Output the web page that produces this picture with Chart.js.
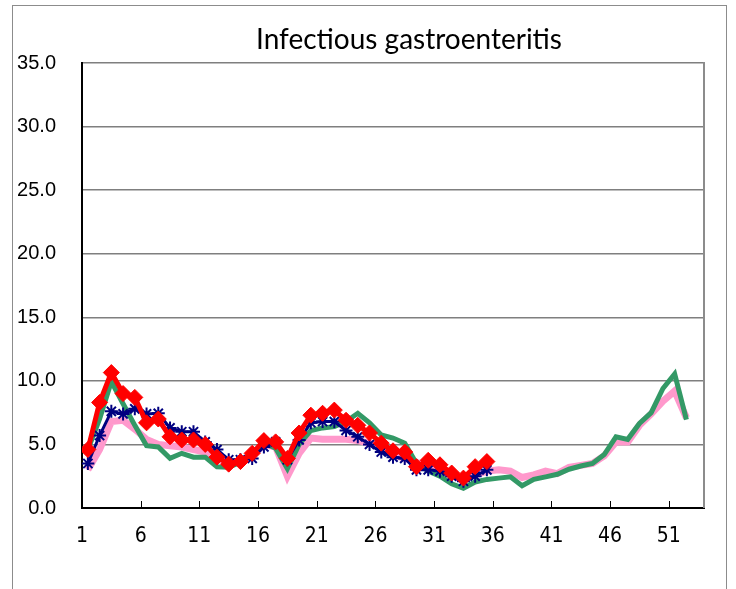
<!DOCTYPE html>
<html>
<head>
<meta charset="utf-8">
<script src="https://cdn.jsdelivr.net/npm/chart.js@4/dist/chart.umd.min.js"></script>
<style>
  html, body { margin: 0; padding: 0; background: #ffffff; }
  canvas { display: block; }
</style>
</head>
<body>
<canvas id="c" width="736" height="589"></canvas>
<script>
// ---- Data ----
const chartTitle = 'Infectious gastroenteritis';
const weeks = [1,2,3,4,5,6,7,8,9,10,11,12,13,14,15,16,17,18,19,20,21,22,23,24,25,26,
               27,28,29,30,31,32,33,34,35,36,37,38,39,40,41,42,43,44,45,46,47,48,49,50,51,52];
const xTickLabels = ['1','6','11','16','21','26','31','36','41','46','51'];
const yTicks = [0,5,10,15,20,25,30,35];

// average of past years (pink)
const pinkSeries = [3.0,4.6,6.8,6.9,6.2,5.4,5.0,4.9,4.8,4.6,4.4,3.9,3.5,3.7,4.1,5.0,4.8,2.5,4.3,5.5,
                    5.4,5.4,5.4,5.3,5.1,4.8,4.2,3.9,3.6,3.3,2.9,2.5,2.3,2.6,2.9,3.0,2.9,2.4,2.6,2.9,
                    2.7,3.2,3.35,3.5,4.1,5.2,5.2,6.5,7.4,8.4,9.2,7.1];
// previous year (green)
const greenSeries = [4.6,7.0,9.95,8.2,6.5,4.9,4.8,3.9,4.3,4.0,4.0,3.25,3.2,3.6,4.2,5.1,4.7,3.1,5.0,6.1,
                     6.3,6.4,6.8,7.45,6.7,5.75,5.5,5.1,3.5,2.9,2.5,1.9,1.55,2.05,2.25,2.35,2.45,1.75,2.25,2.45,
                     2.65,3.05,3.3,3.5,4.2,5.6,5.4,6.65,7.5,9.4,10.55,6.95];
// (navy, asterisk markers)
const blueSeries = [3.5,5.7,7.6,7.4,7.8,7.4,7.45,6.3,6.0,6.0,5.2,4.6,3.8,3.8,3.9,4.8,5.2,3.8,5.35,6.7,
                    6.8,6.8,6.1,5.6,5.0,4.4,4.0,3.9,3.0,3.0,2.9,2.5,2.1,2.5,3.0];
// current year (red, diamonds)
const redSeries = [4.6,8.3,10.65,9.0,8.7,6.7,7.0,5.6,5.35,5.35,5.0,4.0,3.45,3.65,4.3,5.3,5.2,3.9,5.9,7.3,
                   7.45,7.7,6.9,6.5,5.9,5.1,4.5,4.4,3.25,3.75,3.4,2.75,2.35,3.25,3.65];

// ---- Helpers ----
function toPoints(values) {
  return values.map((v, i) => ({ x: weeks[i], y: v }));
}
const firstWeek = weeks[0];
const tickValues = xTickLabels.map((lab) => Number(lab) - 0.5);

// ---- Plugins ----
const framePlugin = {
  id: 'frame',
  beforeDraw(chart) {
    const ctx = chart.ctx;
    ctx.save();
    ctx.fillStyle = '#ffffff';
    ctx.fillRect(0, 0, chart.width, chart.height);
    ctx.strokeStyle = '#8c8c8c';
    ctx.lineWidth = 1;
    ctx.strokeRect(12.5, 5.5, 714, 600);
    ctx.restore();
  },
  afterDraw(chart) {
    const ctx = chart.ctx;
    const area = chart.chartArea;
    const xs = chart.scales.x;
    ctx.save();
    // right border of plot area
    ctx.strokeStyle = '#8c8c8c';
    ctx.lineWidth = 2;
    ctx.beginPath();
    ctx.moveTo(area.right, area.top - 1);
    ctx.lineTo(area.right, area.bottom);
    ctx.stroke();
    // inward tick marks on x axis
    ctx.strokeStyle = '#000000';
    ctx.lineWidth = 1;
    xs.ticks.forEach((t) => {
      const px = Math.round(xs.getPixelForValue(t.value)) + 0.5;
      ctx.beginPath();
      ctx.moveTo(px, area.bottom);
      ctx.lineTo(px, area.bottom - 7);
      ctx.stroke();
    });
    // title
    ctx.fillStyle = '#000000';
    ctx.font = '28px Lato, "Open Sans", sans-serif';
    ctx.textAlign = 'center';
    ctx.textBaseline = 'middle';
    ctx.fillText(chartTitle, 409, 40);
    ctx.restore();
  }
};

// ---- Chart ----
new Chart(document.getElementById('c'), {
  type: 'line',
  data: {
    datasets: [
      {
        label: 'current',
        data: toPoints(redSeries),
        borderColor: '#ff0000',
        backgroundColor: '#ff0000',
        borderWidth: 5,
        pointStyle: 'rectRot',
        pointRadius: 8,
        pointBorderWidth: 1,
        pointBackgroundColor: '#ff0000',
        pointBorderColor: '#ff0000',
        tension: 0,
        order: 1
      },
      {
        label: 'blue',
        data: toPoints(blueSeries),
        borderColor: '#000080',
        backgroundColor: '#000080',
        borderWidth: 3,
        pointStyle: 'star',
        pointRadius: 6.5,
        pointBorderWidth: 2,
        pointBorderColor: '#000080',
        tension: 0,
        order: 2
      },
      {
        label: 'previous',
        data: toPoints(greenSeries),
        borderColor: '#339966',
        backgroundColor: '#339966',
        borderWidth: 5,
        pointRadius: 0,
        tension: 0,
        order: 3
      },
      {
        label: 'average',
        data: toPoints(pinkSeries),
        borderColor: '#ff99cc',
        backgroundColor: '#ff99cc',
        borderWidth: 7,
        pointRadius: 0,
        tension: 0,
        order: 4
      }
    ]
  },
  options: {
    responsive: false,
    devicePixelRatio: 1,
    animation: false,
    events: [],
    layout: { padding: { left: 0, top: 63, right: 32, bottom: 0 } },
    plugins: {
      legend: { display: false },
      title: { display: false },
      tooltip: { enabled: false }
    },
    scales: {
      x: {
        type: 'linear',
        min: firstWeek - 0.5,
        max: 53.5,
        afterFit(scale) { scale.height = 81; },
        afterBuildTicks(scale) {
          scale.ticks = tickValues.map((v) => ({ value: v }));
        },
        grid: { display: false, drawTicks: false },
        border: { display: true, color: '#000000', width: 2 },
        ticks: {
          autoSkip: false,
          maxRotation: 0,
          padding: 16,
          color: '#000000',
          font: { family: '"Liberation Sans Narrow", "DejaVu Sans Condensed", sans-serif', size: 21 },
          callback(value) {
            const idx = tickValues.indexOf(value);
            return idx >= 0 ? xTickLabels[idx] : '';
          }
        }
      },
      y: {
        min: yTicks[0],
        max: yTicks[yTicks.length - 1],
        afterFit(scale) { scale.width = 82; },
        afterBuildTicks(scale) {
          scale.ticks = yTicks.map((v) => ({ value: v }));
        },
        grid: { color: '#7f7f7f', lineWidth: 1.5, drawTicks: false },
        border: { display: true, color: '#000000', width: 2 },
        ticks: {
          padding: 26,
          color: '#000000',
          font: { family: '"Liberation Sans", Arial, sans-serif', size: 20 },
          callback(value) { return Number(value).toFixed(1); }
        }
      }
    }
  },
  plugins: [framePlugin]
});
</script>
</body>
</html>
